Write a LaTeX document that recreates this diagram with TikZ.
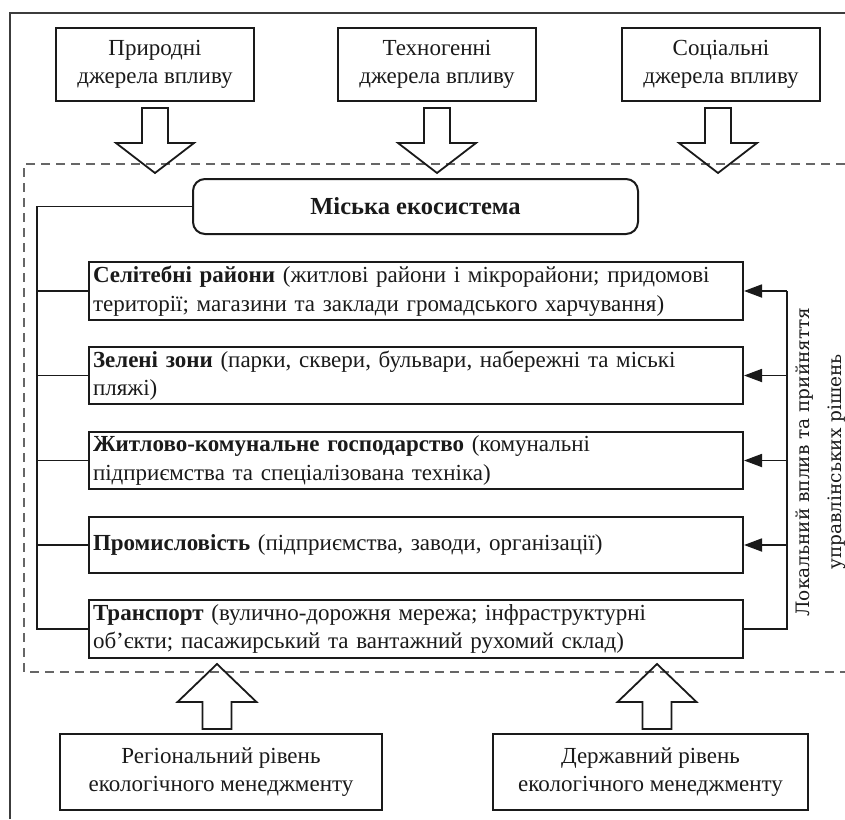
\documentclass[tikz,border=0pt]{standalone}
\usepackage{fontspec}
\setmainfont{Liberation Serif}
\newfontfamily\rotfont{DejaVu Serif}
\usetikzlibrary{arrows.meta}
\definecolor{ink}{HTML}{1A1A1A}
\definecolor{dashc}{HTML}{666666}
\begin{document}
\begin{tikzpicture}[x=1pt,y=-1pt,
  every node/.style={text=ink,font=\fontsize{23}{28.5}\selectfont},
  srcbox/.style={draw=ink,line width=2pt,minimum width=198pt,minimum height=73pt,align=center,inner sep=0pt},
  lvlbox/.style={draw=ink,line width=2pt,minimum width=322pt,minimum height=76pt,align=center,inner sep=0pt},
  zonebox/.style={draw=ink,line width=2pt,minimum width=654pt,minimum height=56pt,text width=646pt,align=left,inner sep=4pt},
  ecobox/.style={draw=ink,line width=2pt,rounded corners=12pt,minimum width=445pt,minimum height=55pt,font=\fontsize{24.5}{28.5}\selectfont\bfseries},
  wire/.style={draw=ink,line width=1.8pt},
  tip/.style={wire,-{Triangle[length=18pt,width=13pt]}},
  hollow/.style={draw=ink,line width=1.8pt},
  downarr/.pic={\path[hollow] (-13,0) -- (-13,35) -- (-39,35) -- (0,65) -- (39,35) -- (13,35) -- (13,0) -- cycle;},
  uparr/.pic={\path[hollow] (-14.5,0) -- (-14.5,-27) -- (-39.5,-27) -- (0,-65) -- (39.5,-27) -- (14.5,-27) -- (14.5,0) -- cycle;}
]
\useasboundingbox (0,0) rectangle (845,819);
% outer frame (cropped)
\draw[draw=ink!85,line width=1.4pt] (10,819) -- (10,13) -- (845,13);
% dashed region (cropped)
\draw[draw=dashc,line width=1.5pt,dash pattern=on 9pt off 6pt] (845,164) -- (24,164) -- (24,672) -- (845,672);

% sources
\node[srcbox] (s1) at (155,64.5) {Природні\\джерела впливу};
\node[srcbox] (s2) at (437,64.5) {Техногенні\\джерела впливу};
\node[srcbox] (s3) at (721,64.5) {Соціальні\\джерела впливу};
\pic at (155,108) {downarr};
\pic at (437,108) {downarr};
\pic at (718,108) {downarr};

% ecosystem
\node[ecobox] (eco) at (415.5,206.5) {Міська екосистема};

% zones
\node[zonebox] (z1) at (416,291) {\textbf{Селітебні райони} (житлові райони і мікрорайони; придомові\\території; магазини та заклади громадського харчування)};
\node[zonebox] (z2) at (416,375.5) {\textbf{Зелені зони} (парки, сквери, бульвари, набережні та міські\\пляжі)};
\node[zonebox] (z3) at (416,460.5) {\textbf{Житлово-комунальне господарство} (комунальні\\підприємства та спеціалізована техніка)};
\node[zonebox] (z4) at (416,545) {\textbf{Промисловість} (підприємства, заводи, організації)};
\node[zonebox] (z5) at (416,629) {\textbf{Транспорт} (вулично-дорожня мережа; інфраструктурні\\об'єкти; пасажирський та вантажний рухомий склад)};

% left bus
\coordinate (lt) at (37,206.5);
\coordinate (lb) at (37,629);
\draw[wire] (eco.west) -- (lt) -- (lb) -- (z5.west);
\foreach \z in {z1,z2,z3,z4}{\draw[wire] (\z.west) -- (lt|-\z.west);}

% right bus
\coordinate (rt) at (787,291);
\coordinate (rb) at (787,629);
\draw[wire] (z5.east) -- (rb) -- (rt);
\foreach \z in {z1,z2,z3,z4}{\draw[tip] (rt|-\z.east) -- (\z.east);}

\node[rotate=90,align=center,font=\rotfont\fontsize{18.5}{32}\selectfont] (loc) at (821,462) {Локальний вплив та прийняття\\управлінських рішень};

% management levels
\node[lvlbox] (m1) at (221,772) {Регіональний рівень\\екологічного менеджменту};
\node[lvlbox,minimum width=315pt] (m2) at (650.5,772) {Державний рівень\\екологічного менеджменту};
\pic at (217,729) {uparr};
\pic at (657,729) {uparr};
\end{tikzpicture}
\end{document}
